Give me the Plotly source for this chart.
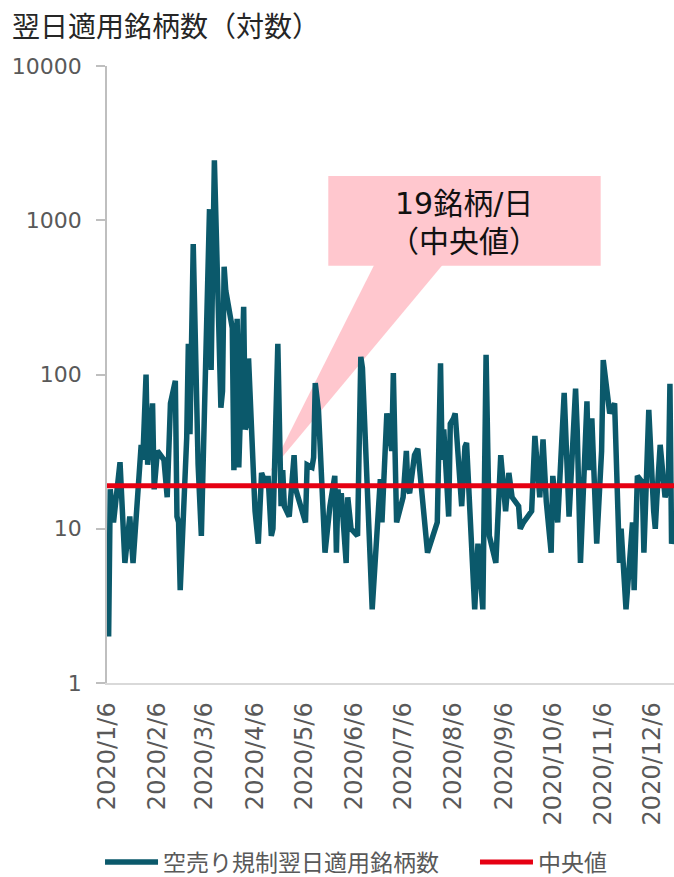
import plotly.graph_objects as go

# ---- data ----
dates = [
    "2020-01-06", "2020-01-07", "2020-01-08", "2020-01-10", "2020-01-14", "2020-01-17",
    "2020-01-20", "2020-01-22", "2020-01-27", "2020-01-28", "2020-01-30", "2020-01-31",
    "2020-02-03", "2020-02-04", "2020-02-06", "2020-02-10", "2020-02-12", "2020-02-14",
    "2020-02-17", "2020-02-18", "2020-02-19", "2020-02-20", "2020-02-24", "2020-02-25",
    "2020-02-26", "2020-02-28", "2020-03-02", "2020-03-04", "2020-03-09", "2020-03-10",
    "2020-03-12", "2020-03-16", "2020-03-17", "2020-03-18", "2020-03-19", "2020-03-23",
    "2020-03-24", "2020-03-26", "2020-03-27", "2020-03-30", "2020-03-31", "2020-04-01",
    "2020-04-02", "2020-04-06", "2020-04-08", "2020-04-10", "2020-04-13", "2020-04-14",
    "2020-04-16", "2020-04-17", "2020-04-20", "2020-04-22", "2020-04-23", "2020-04-24",
    "2020-04-27", "2020-04-28", "2020-04-30", "2020-05-01", "2020-05-07", "2020-05-08",
    "2020-05-11", "2020-05-12", "2020-05-13", "2020-05-15", "2020-05-19", "2020-05-22",
    "2020-05-25", "2020-05-26", "2020-05-27", "2020-05-28", "2020-05-29", "2020-06-01",
    "2020-06-02", "2020-06-04", "2020-06-08", "2020-06-10", "2020-06-11", "2020-06-17",
    "2020-06-19", "2020-06-22", "2020-06-23", "2020-06-25", "2020-06-26", "2020-06-29",
    "2020-06-30", "2020-07-02", "2020-07-03", "2020-07-06", "2020-07-08", "2020-07-09",
    "2020-07-10", "2020-07-13", "2020-07-15", "2020-07-21", "2020-07-27", "2020-07-28",
    "2020-07-29", "2020-07-30", "2020-07-31", "2020-08-03", "2020-08-04", "2020-08-06",
    "2020-08-07", "2020-08-11", "2020-08-13", "2020-08-14", "2020-08-17", "2020-08-19",
    "2020-08-21", "2020-08-24", "2020-08-26", "2020-08-28", "2020-09-01", "2020-09-04",
    "2020-09-07", "2020-09-09", "2020-09-11", "2020-09-15", "2020-09-16", "2020-09-18",
    "2020-09-23", "2020-09-24", "2020-09-25", "2020-09-28", "2020-09-30", "2020-10-02",
    "2020-10-05", "2020-10-06", "2020-10-09", "2020-10-13", "2020-10-16", "2020-10-20",
    "2020-10-21", "2020-10-23", "2020-10-27", "2020-10-28", "2020-10-30", "2020-11-02",
    "2020-11-05", "2020-11-06", "2020-11-10", "2020-11-13", "2020-11-16", "2020-11-17",
    "2020-11-20", "2020-11-24", "2020-11-25", "2020-11-27", "2020-11-30", "2020-12-01",
    "2020-12-04", "2020-12-07", "2020-12-08", "2020-12-09", "2020-12-11", "2020-12-14",
    "2020-12-16", "2020-12-17", "2020-12-18", "2020-12-21",
]
counts = [
    6, 2, 18, 11, 27, 6,
    12, 6, 35, 28, 100, 26,
    65, 18, 32, 28, 16, 65,
    91, 12, 11, 4, 39, 158,
    41, 700, 26, 9, 1180, 107,
    2450, 61, 78, 500, 350, 200,
    24, 230, 25, 275, 44, 48,
    127, 13, 8, 23, 19, 22,
    9, 10, 158, 14, 24, 14,
    12, 16, 30, 18, 11, 26,
    25, 29, 88, 58, 7, 14,
    22, 7, 18, 12, 17, 6,
    16, 10, 9, 130, 110, 3,
    7, 21, 11, 34, 56, 32,
    102, 11, 12, 16, 32, 18,
    17, 30, 33, 7, 11, 38,
    118, 28, 44, 12, 48, 52,
    56, 14, 34, 36, 7, 3,
    8, 3, 134, 9, 6, 30,
    13, 23, 16, 14, 10, 11,
    13, 23, 40, 16, 38, 15,
    7, 22, 11, 76, 12, 81,
    44, 6, 67, 24, 52, 8,
    32, 124, 56, 65, 6, 10,
    3, 11, 4, 22, 20, 7,
    59, 13, 10, 16, 35, 16,
    19, 87, 8, 12,
]
median_value = 19
median_dates = ["2020-01-06", "2020-12-31"]

tick_dates = ["2020-01-06", "2020-02-06", "2020-03-06", "2020-04-06", "2020-05-06",
              "2020-06-06", "2020-07-06", "2020-08-06", "2020-09-06", "2020-10-06",
              "2020-11-06", "2020-12-06"]
tick_labels = ["2020/1/6", "2020/2/6", "2020/3/6", "2020/4/6", "2020/5/6", "2020/6/6",
               "2020/7/6", "2020/8/6", "2020/9/6", "2020/10/6", "2020/11/6", "2020/12/6"]
y_tickvals = [1, 10, 100, 1000, 10000]
y_ticktext = ["1", "10", "100", "1000", "10000"]

series_name = "空売り規制翌日適用銘柄数"
median_name = "中央値"
title_text = "翌日適用銘柄数（対数）"
callout_line1 = "19銘柄/日"
callout_line2 = "（中央値）"

FONT = "DejaVu Sans, Noto Sans CJK JP"
TEAL = "#0b596b"
RED = "#e60012"
GRAY = "#595959"

fig = go.Figure()
fig.add_trace(go.Scatter(x=dates, y=counts, mode="lines", name=series_name,
                         line=dict(color=TEAL, width=5.5), legend="legend"))
fig.add_trace(go.Scatter(x=median_dates, y=[median_value] * len(median_dates),
                         mode="lines", name=median_name,
                         line=dict(color=RED, width=5), legend="legend2"))

# callout box and pointer (paper coordinates)
fig.add_shape(type="rect", xref="paper", yref="paper",
              x0=0.3903, x1=0.8707, y0=0.6763, y1=0.8217,
              fillcolor="#ffc7ce", line=dict(width=0), layer="below")
fig.add_shape(type="path", xref="paper", yref="paper",
              path="M 0.4714 0.6780 L 0.5921 0.6780 L 0.2875 0.3425 Z",
              fillcolor="#ffc7ce", line=dict(width=0), layer="below")
fig.add_annotation(text=callout_line1, xref="paper", yref="paper", x=0.6305, y=0.7775,
                   showarrow=False, xanchor="center", yanchor="middle",
                   font=dict(family=FONT, size=30, color="#111111"))
fig.add_annotation(text=callout_line2, xref="paper", yref="paper", x=0.6305, y=0.7150,
                   showarrow=False, xanchor="center", yanchor="middle",
                   font=dict(family=FONT, size=30, color="#111111"))
fig.add_annotation(text=title_text, xref="paper", yref="paper", x=-0.171, y=1.0616,
                   showarrow=False, xanchor="left", yanchor="middle",
                   font=dict(family=FONT, size=28, color="#262626"))

legend_common = dict(orientation="h", yanchor="middle", y=-0.290, xanchor="left",
                     font=dict(family=FONT, size=23, color=GRAY),
                     itemwidth=53, bgcolor="rgba(0,0,0,0)", borderwidth=0)

fig.update_layout(
    width=674, height=877,
    margin=dict(l=107, r=0, t=66, b=194, autoexpand=False),
    paper_bgcolor="white", plot_bgcolor="white",
    font=dict(family=FONT, color=GRAY),
    showlegend=True,
    legend=dict(x=-0.0123, **legend_common),
    legend2=dict(x=0.649, **legend_common),
    xaxis=dict(type="date", range=["2020-01-06", "2020-12-19 12:00"],
               tickmode="array", tickvals=tick_dates, ticktext=tick_labels,
               tickangle=-90, ticks="", showgrid=False, zeroline=False,
               showline=True, linecolor="#d9d9d9", linewidth=1.5, automargin=False,
               tickfont=dict(family=FONT, size=24, color=GRAY), ticklabelstandoff=8),
    yaxis=dict(type="log", range=[0, 4], tickmode="array", tickvals=y_tickvals,
               ticktext=y_ticktext, ticks="outside", ticklen=9, tickcolor="#bfbfbf",
               tickwidth=1.5, showgrid=False, zeroline=False, showline=True,
               linecolor="#bfbfbf", linewidth=1.5, automargin=False,
               tickfont=dict(family=FONT, size=22, color=GRAY), ticklabelstandoff=10),
)

fig.write_html("out.html", config={"displayModeBar": False},
               post_script="document.body.style.margin='0';document.body.style.padding='0';")
